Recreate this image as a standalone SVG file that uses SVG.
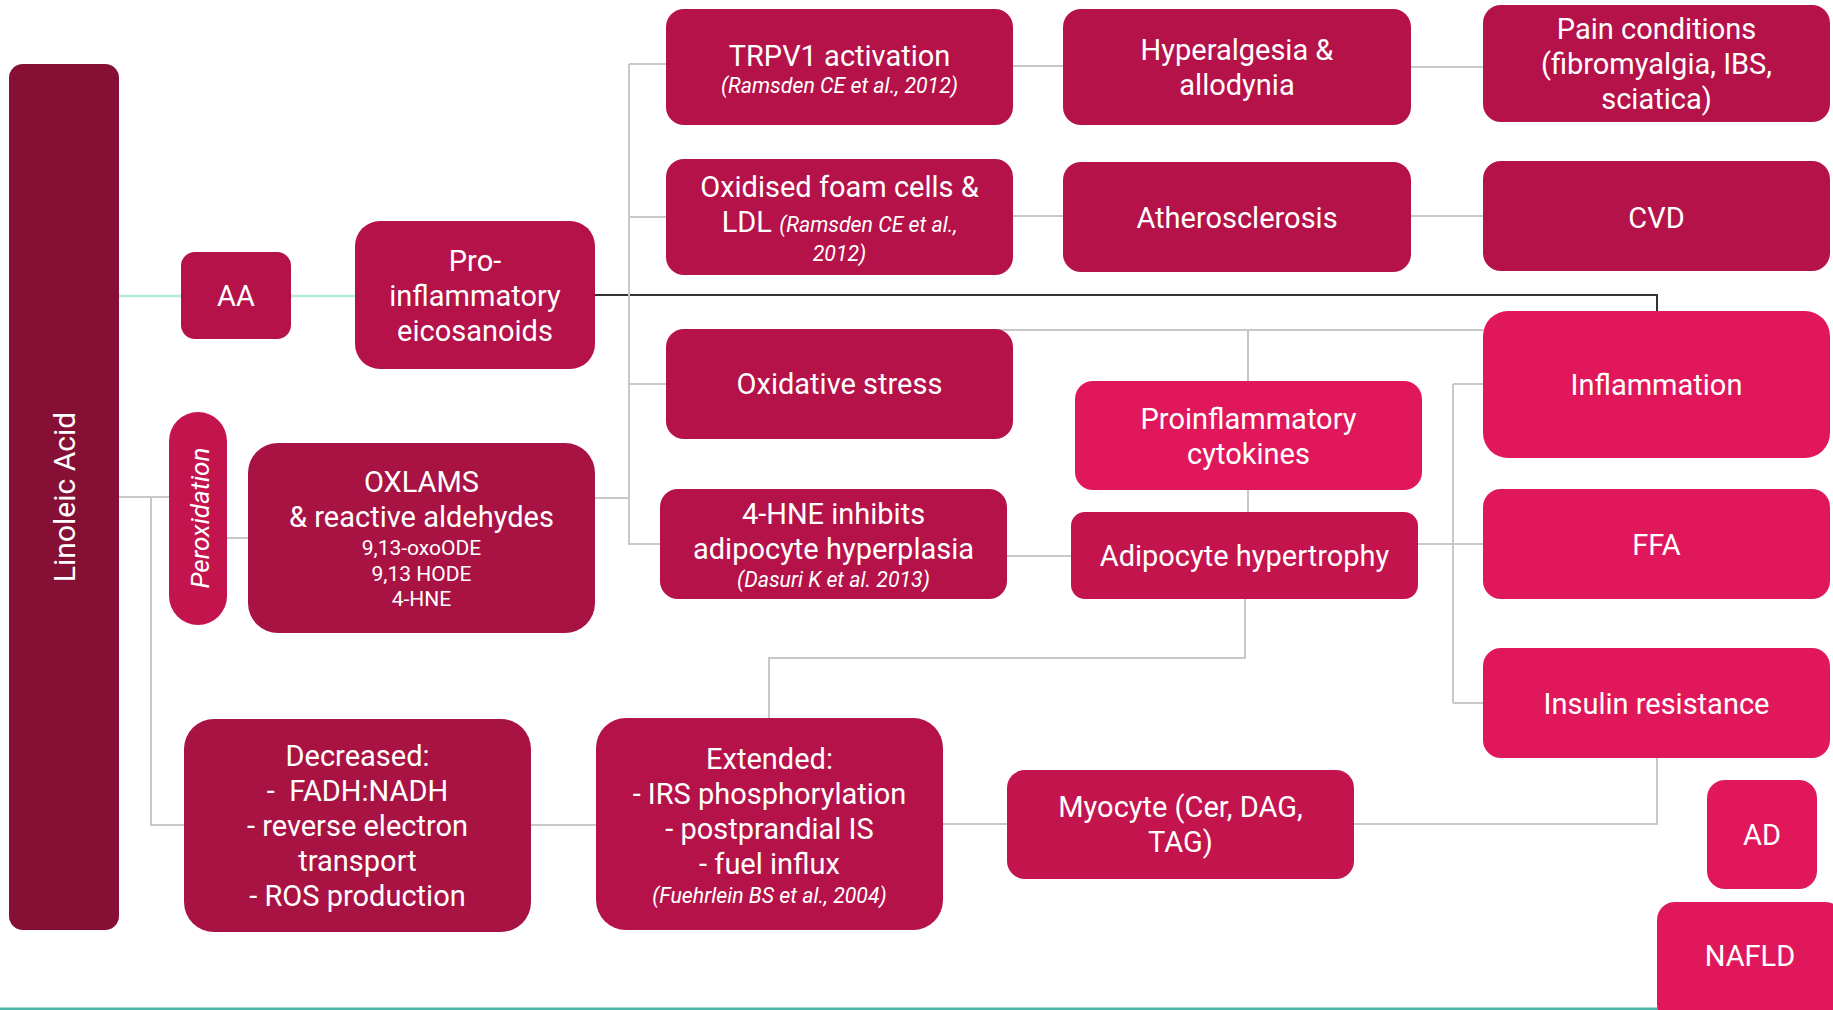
<svg xmlns="http://www.w3.org/2000/svg" width="1833" height="1010" viewBox="0 0 1833 1010">
<style>
.t{font-family:Roboto,"Liberation Sans",sans-serif;font-size:29px;fill:#fff;text-anchor:middle}
.c{font-family:Roboto,"Liberation Sans",sans-serif;font-size:21.3px;fill:#fff;text-anchor:middle;font-style:italic}
.s{font-family:Roboto,"Liberation Sans",sans-serif;font-size:21px;fill:#fff;text-anchor:middle}
.ci{font-size:21.3px;font-style:italic}
.d1{fill:#860F36}
.d2{fill:#B5124A}
.d3{fill:#A91344}
.d4{fill:#C4144E}
.d5{fill:#E0185B}
.g{fill:none;stroke:#C8C8C8;stroke-width:2}
.tl{fill:none;stroke:#B2EBDF;stroke-width:2.5}
.bk{fill:none;stroke:#333;stroke-width:2}
</style>
<rect x="0" y="1007.5" width="1833" height="2.5" fill="#4DB6A8"/>
<g id="connectors">
<path class="tl" d="M119 296H181M291 296H355"/>
<path class="bk" d="M595 295H1657V311"/>
<path class="g" d="M119 497H169M151 497V825H184M227 538H248"/>
<path class="g" d="M595 498H629M629 64V544H660M629 64H666M629 217H666M629 384H666"/>
<path class="g" d="M1013 66H1063M1013 216H1063M1411 67H1483M1411 216H1483"/>
<path class="g" d="M995 330H1483M1248 330V381M1248 490V512M1007 556H1071"/>
<path class="g" d="M1418 544H1483M1453 384V703M1453 384H1483M1453 703H1483"/>
<path class="g" d="M1245 599V658H769V718M531 825H596M943 824H1007M1354 824H1657V758"/>
</g>
<g id="linoleic"><rect class="d1" x="9" y="64" width="110" height="866" rx="14"/><text class="t" style="font-size:30px" transform="translate(75,497) rotate(-90)">Linoleic Acid</text></g>
<g id="aa"><rect class="d2" x="181" y="252" width="110" height="87" rx="14"/><text class="t" x="236" y="306">AA</text></g>
<g id="proinflammatory-eicosanoids"><rect class="d2" x="355" y="221" width="240" height="148" rx="25"/><text class="t" x="475" y="271">Pro-</text><text class="t" x="475" y="306">inflammatory</text><text class="t" x="475" y="341">eicosanoids</text></g>
<g id="peroxidation"><rect class="d4" x="169" y="412" width="58" height="213" rx="29"/><text class="c" style="font-size:26px" transform="translate(209,518) rotate(-90)">Peroxidation</text></g>
<g id="oxlams"><rect class="d3" x="248" y="443" width="347" height="190" rx="30"/><text class="t" x="421.5" y="492">OXLAMS</text><text class="t" x="421.5" y="527">&amp; reactive aldehydes</text><text class="s" x="421.5" y="555">9,13-oxoODE</text><text class="s" x="421.5" y="581">9,13 HODE</text><text class="s" x="421.5" y="606">4-HNE</text></g>
<g id="decreased"><rect class="d3" x="184" y="719" width="347" height="213" rx="30"/><text class="t" x="357.5" y="766">Decreased:</text><text class="t" x="357.5" y="801">-&#160; FADH:NADH</text><text class="t" x="357.5" y="836">- reverse electron</text><text class="t" x="357.5" y="871">transport</text><text class="t" x="357.5" y="906">- ROS production</text></g>
<g id="trpv1"><rect class="d2" x="666" y="9" width="347" height="116" rx="18"/><text class="t" x="839.5" y="66">TRPV1 activation</text><text class="c" x="839.5" y="93">(Ramsden CE et al., 2012)</text></g>
<g id="oxidised-foam-cells"><rect class="d2" x="666" y="159" width="347" height="116" rx="18"/><text class="t" x="839.5" y="197">Oxidised foam cells &amp;</text><text class="t" x="839.5" y="232">LDL <tspan class="ci">(Ramsden CE et al.,</tspan></text><text class="c" x="839.5" y="261">2012)</text></g>
<g id="oxidative-stress"><rect class="d2" x="666" y="329" width="347" height="110" rx="18"/><text class="t" x="839.5" y="394">Oxidative stress</text></g>
<g id="hne"><rect class="d2" x="660" y="489" width="347" height="110" rx="18"/><text class="t" x="833.5" y="524">4-HNE inhibits</text><text class="t" x="833.5" y="559">adipocyte hyperplasia</text><text class="c" x="833.5" y="587">(Dasuri K et al. 2013)</text></g>
<g id="extended"><rect class="d2" x="596" y="718" width="347" height="212" rx="30"/><text class="t" x="769.5" y="769">Extended:</text><text class="t" x="769.5" y="804">- IRS phosphorylation</text><text class="t" x="769.5" y="839">- postprandial IS</text><text class="t" x="769.5" y="874">- fuel influx</text><text class="c" x="769.5" y="903">(Fuehrlein BS et al., 2004)</text></g>
<g id="myocyte"><rect class="d4" x="1007" y="770" width="347" height="109" rx="18"/><text class="t" x="1180.5" y="817">Myocyte (Cer, DAG,</text><text class="t" x="1180.5" y="852">TAG)</text></g>
<g id="hyperalgesia"><rect class="d2" x="1063" y="9" width="348" height="116" rx="18"/><text class="t" x="1237" y="60">Hyperalgesia &amp;</text><text class="t" x="1237" y="95">allodynia</text></g>
<g id="atherosclerosis"><rect class="d2" x="1063" y="162" width="348" height="110" rx="18"/><text class="t" x="1237" y="228">Atherosclerosis</text></g>
<g id="cytokines"><rect class="d5" x="1075" y="381" width="347" height="109" rx="18"/><text class="t" x="1248.5" y="429">Proinflammatory</text><text class="t" x="1248.5" y="464">cytokines</text></g>
<g id="hypertrophy"><rect class="d4" x="1071" y="512" width="347" height="87" rx="14"/><text class="t" x="1244.5" y="566">Adipocyte hypertrophy</text></g>
<g id="pain"><rect class="d2" x="1483" y="5" width="347" height="117" rx="18"/><text class="t" x="1656.5" y="39">Pain conditions</text><text class="t" x="1656.5" y="74">(fibromyalgia, IBS,</text><text class="t" x="1656.5" y="109">sciatica)</text></g>
<g id="cvd"><rect class="d2" x="1483" y="161" width="347" height="110" rx="18"/><text class="t" x="1656.5" y="228">CVD</text></g>
<g id="inflammation"><rect class="d5" x="1483" y="311" width="347" height="147" rx="25"/><text class="t" x="1656.5" y="395">Inflammation</text></g>
<g id="ffa"><rect class="d5" x="1483" y="489" width="347" height="110" rx="18"/><text class="t" x="1656.5" y="555">FFA</text></g>
<g id="insulin-resistance"><rect class="d5" x="1483" y="648" width="347" height="110" rx="18"/><text class="t" x="1656.5" y="714">Insulin resistance</text></g>
<g id="ad"><rect class="d5" x="1707" y="780" width="110" height="109" rx="18"/><text class="t" x="1762" y="845">AD</text></g>
<g id="nafld"><rect class="d5" x="1657" y="902" width="186" height="120" rx="18"/><text class="t" x="1750" y="966">NAFLD</text></g>
</svg>
